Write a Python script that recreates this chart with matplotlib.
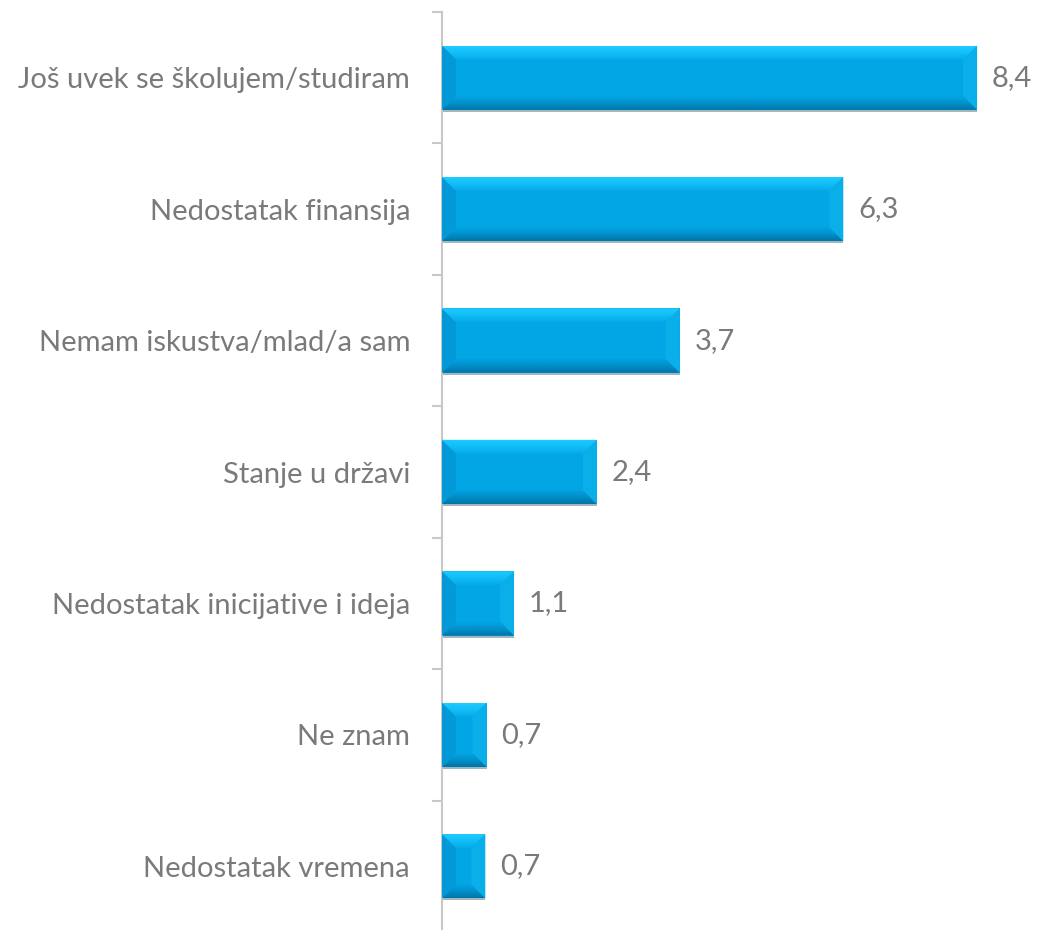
import matplotlib
matplotlib.use("Agg")
import numpy as np
import matplotlib.pyplot as plt
from matplotlib.patches import Polygon, Rectangle
from matplotlib.colors import LinearSegmentedColormap
from matplotlib.ticker import FixedLocator, NullFormatter

categories = [
    "Još uvek se školujem/studiram",
    "Nedostatak finansija",
    "Nemam iskustva/mlad/a sam",
    "Stanje u državi",
    "Nedostatak inicijative i ideja",
    "Ne znam",
    "Nedostatak vremena",
]
values = [8.4, 6.3, 3.73, 2.43, 1.13, 0.7, 0.68]
value_labels = ["8,4", "6,3", "3,7", "2,4", "1,1", "0,7", "0,7"]

FONT = "Lato"
TEXT_COLOR = "#7A7A7A"
AXIS_COLOR = "#C8C8C8"
MAIN = "#02A6E5"
LEFT = "#0398D6"
RIGHT = "#0AAFEA"
top_cmap = LinearSegmentedColormap.from_list("top", ["#1ECCFF", "#12BDF7", "#05AAE9"])
bot_cmap = LinearSegmentedColormap.from_list("bot", ["#02A4E3", "#0290CB", "#0074A4"])
grad = np.linspace(0, 1, 64).reshape(-1, 1)

W, H = 1037, 930
fig = plt.figure(figsize=(W / 100, H / 100), dpi=100)
ax = fig.add_axes([442 / W, -2 / H, 595 / W, (930 - 12 + 2) / H])

n = len(categories)
ypos = list(range(n))
bar_h = 0.49
xmax = 595 / 63.7
ylim = (n - 0.5, -0.5)

bars = ax.barh(ypos, values, height=bar_h, color=MAIN, edgecolor="none", zorder=2)

px_x = xmax / 595.0
px_y = n / 920.0
bx = 14 * px_x
by = 14 * px_y

for b in bars:
    x0 = b.get_x()
    x1 = x0 + b.get_width()
    yt = b.get_y()
    yb = yt + b.get_height()
    bxx = min(bx, (x1 - x0) / 2 * 0.95)
    ax.add_patch(Rectangle((x0, yb), x1 - x0, 2 * px_y, color="#A3B5BF", zorder=1, lw=0))
    ax.add_patch(Polygon([(x0, yt), (x0 + bxx, yt + by), (x0 + bxx, yb - by), (x0, yb)],
                         closed=True, color=LEFT, lw=0, zorder=3))
    ax.add_patch(Polygon([(x1, yt), (x1 - bxx, yt + by), (x1 - bxx, yb - by), (x1, yb)],
                         closed=True, color=RIGHT, lw=0, zorder=3))
    tp = Polygon([(x0, yt), (x1, yt), (x1 - bxx, yt + by), (x0 + bxx, yt + by)],
                 closed=True, facecolor="none", lw=0, zorder=3)
    ax.add_patch(tp)
    im = ax.imshow(grad, extent=[x0, x1, yt + by, yt], cmap=top_cmap, aspect="auto",
                   origin="upper", zorder=3, interpolation="bilinear")
    im.set_clip_path(tp)
    bp = Polygon([(x0, yb), (x1, yb), (x1 - bxx, yb - by), (x0 + bxx, yb - by)],
                 closed=True, facecolor="none", lw=0, zorder=3)
    ax.add_patch(bp)
    im2 = ax.imshow(grad, extent=[x0, x1, yb, yb - by], cmap=bot_cmap, aspect="auto",
                    origin="upper", zorder=3, interpolation="bilinear")
    im2.set_clip_path(bp)

ax.set_xlim(0, xmax)
ax.set_ylim(*ylim)

for y, v, lab in zip(ypos, values, value_labels):
    ax.text(v + 15 * px_x, y, lab, va="center", ha="left", fontsize=21,
            color=TEXT_COLOR, family=FONT)

for s in ["top", "right", "bottom"]:
    ax.spines[s].set_visible(False)
ax.spines["left"].set_color(AXIS_COLOR)
ax.spines["left"].set_linewidth(1.5)

ax.set_yticks(ypos)
ax.set_yticklabels(categories, fontsize=21, color=TEXT_COLOR, family=FONT)
ax.tick_params(axis="y", which="major", length=0, pad=23)
ax.yaxis.set_minor_locator(FixedLocator([i - 0.5 for i in range(n + 1)]))
ax.yaxis.set_minor_formatter(NullFormatter())
ax.tick_params(axis="y", which="minor", length=7.2, width=1.5, color=AXIS_COLOR)
ax.set_xticks([])

fig.savefig("out.png", dpi=100)
